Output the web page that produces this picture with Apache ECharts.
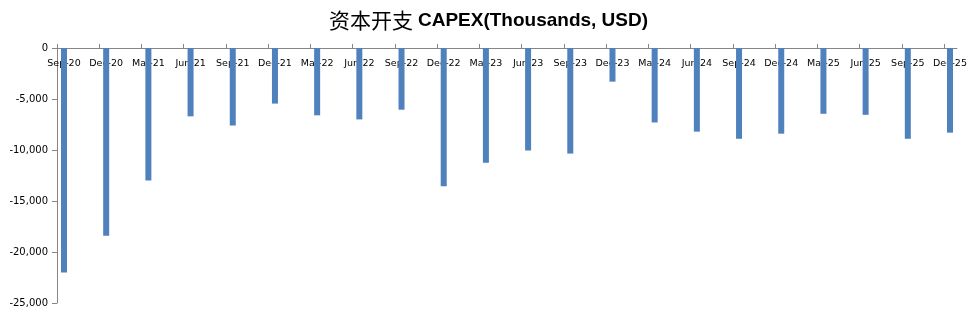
<!DOCTYPE html>
<html>
<head>
<meta charset="utf-8">
<script src="https://cdn.jsdelivr.net/npm/echarts@6/dist/echarts.min.js"></script>
<style>
html,body{margin:0;padding:0;background:#fff;}
#c{width:977px;height:315px;}
</style>
</head>
<body>
<div id="c"></div>
<script>
const categories = ['Sep-20','Dec-20','Mar-21','Jun-21','Sep-21','Dec-21','Mar-22','Jun-22','Sep-22','Dec-22','Mar-23','Jun-23','Sep-23','Dec-23','Mar-24','Jun-24','Sep-24','Dec-24','Mar-25','Jun-25','Sep-25','Dec-25'];
const capex = [-22000,-18400,-13000,-6700,-7600,-5450,-6600,-7000,-6050,-13550,-11250,-10050,-10350,-3300,-7300,-8200,-8900,-8400,-6450,-6550,-8900,-8300];
const yMin = -25000, yMax = 0, yStep = 5000;

const chart = echarts.init(document.getElementById('c'), null, {renderer:'canvas'});
const axisGray = '#868686';
const fnt = 'DejaVu Sans';
chart.setOption({
  animation:false,
  title:{
    text:'{cn|资本开支} {en|CAPEX(Thousands, USD)}',
    left:'center', top:5,
    textStyle:{
      rich:{
        cn:{fontFamily:'Noto Sans CJK SC', fontSize:21, fontWeight:'normal', color:'#000'},
        en:{fontFamily:'Liberation Sans', fontSize:19, fontWeight:'bold', color:'#000'}
      }
    }
  },
  grid:[
    {left:57, right:20, top:48, bottom:12},
    {left:57, right:33, top:48, bottom:12},
    {left:64, right:27, top:48, bottom:12}
  ],
  xAxis:[
    {gridIndex:0, type:'category', data:categories, position:'top',
     axisLine:{show:true, onZero:false, lineStyle:{color:axisGray, width:1}},
     axisTick:{show:false}, axisLabel:{show:false}, splitLine:{show:false}},
    {gridIndex:1, type:'category', data:categories, position:'top', boundaryGap:false,
     axisLine:{show:false},
     axisTick:{show:true, inside:false, length:4, interval:0, lineStyle:{color:axisGray}},
     axisLabel:{show:false}, splitLine:{show:false}},
    {gridIndex:2, type:'category', data:categories, position:'top', boundaryGap:false,
     axisLine:{show:false}, axisTick:{show:false},
     axisLabel:{show:true, inside:true, interval:0, margin:11, fontFamily:fnt, fontSize:9.5, color:'#000'},
     splitLine:{show:false}}
  ],
  yAxis:[
    {gridIndex:0, type:'value', min:yMin, max:yMax, interval:yStep,
     axisLine:{show:true, lineStyle:{color:axisGray}},
     axisTick:{show:true, length:5, lineStyle:{color:axisGray}},
     axisLabel:{margin:9, fontFamily:fnt, fontSize:10, color:'#000',
       formatter:v=>v===0?'0':'-'+Math.abs(v).toLocaleString('en-US')},
     splitLine:{show:false}},
    {gridIndex:1, type:'value', min:yMin, max:yMax, interval:yStep, show:false},
    {gridIndex:2, type:'value', min:yMin, max:yMax, interval:yStep, show:false}
  ],
  series:[
    {type:'bar', xAxisIndex:2, yAxisIndex:2, data:capex, barWidth:6,
     itemStyle:{color:'#4F81BD'}}
  ]
});
</script>
</body>
</html>
